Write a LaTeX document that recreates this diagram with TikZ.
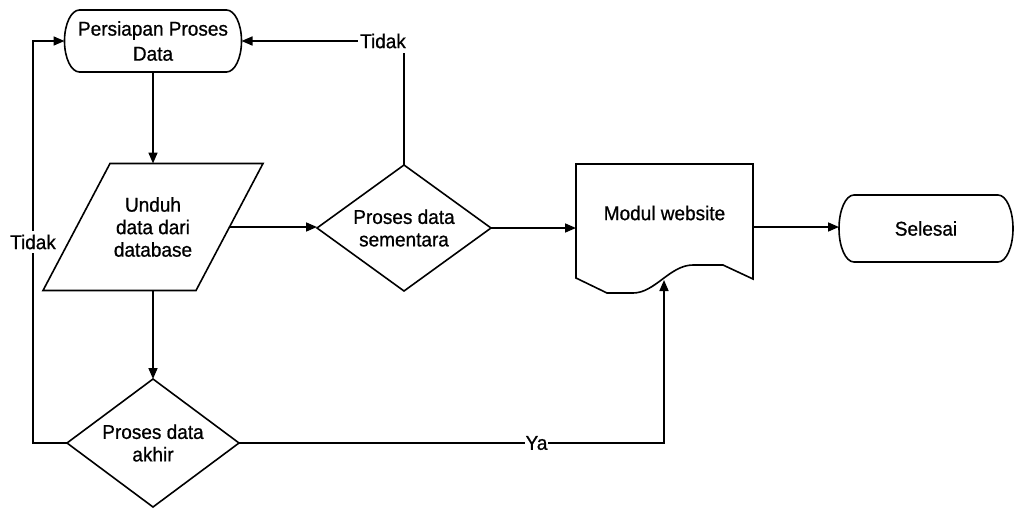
\documentclass[tikz,border=0pt]{standalone}
\usepackage{fontspec}
\setmainfont{Liberation Sans}[FakeStretch=0.95, FakeBold=0.8]
\usetikzlibrary{arrows.meta,calc}
\newcommand{\myfont}{\fontsize{20}{22.5}\selectfont}
\newcommand{\myfontwide}{\fontsize{20}{25}\selectfont}
\tikzset{
  shp/.style={draw=none, inner sep=0pt, outer sep=0pt, align=center, font=\myfont},
  outline/.style={draw, line width=1.6pt, line join=miter},
  conn/.style={draw, line width=1.6pt, -{Triangle[length=11pt,width=9pt]}},
  lbl/.style={fill=white, inner sep=2pt, font=\myfont},
}
\begin{document}
\begin{tikzpicture}[x=1pt,y=1pt]
\useasboundingbox (0,0) rectangle (1017,-509);

% Persiapan Proses Data (terminal)
\node[shp, minimum width=177pt, minimum height=62pt] (persiapan) at (153,-41) {};
\node[shp, font=\myfontwide] (persiapanT) at (153,-41) {Persiapan Proses\\Data};
\draw[outline] ([xshift=15pt]persiapan.north west) -- ([xshift=-15pt]persiapan.north east)
  arc[start angle=90,end angle=-90,x radius=15pt,y radius=31pt]
  -- ([xshift=15pt]persiapan.south west)
  arc[start angle=270,end angle=90,x radius=15pt,y radius=31pt] -- cycle;

% Unduh data dari database (parallelogram)
\node[shp, minimum width=153pt, minimum height=127pt] (unduh) at (153,-227) {Unduh\\data dari\\database};
\draw[outline] ([xshift=33.5pt]unduh.north west) -- ([xshift=33.5pt]unduh.north east)
  -- ([xshift=-33.5pt]unduh.south east) -- ([xshift=-33.5pt]unduh.south west) -- cycle;

% Proses data sementara (diamond)
\node[shp, minimum width=174pt, minimum height=126pt] (sementara) at (404,-228) {Proses data\\sementara};
\draw[outline] (sementara.north) -- (sementara.east) -- (sementara.south) -- (sementara.west) -- cycle;

% Proses data akhir (diamond)
\node[shp, minimum width=172pt, minimum height=128pt] (akhir) at (153,-443) {Proses data\\akhir};
\draw[outline] (akhir.north) -- (akhir.east) -- (akhir.south) -- (akhir.west) -- cycle;

% Modul website (document)
\node[shp, minimum width=177pt, minimum height=126pt] (modul) at (664.5,-227) {};
\node[shp] (modulT) at (664.5,-213) {Modul website};
\draw[outline] (modul.north west) -- (modul.north east) -- ([yshift=11pt]modul.south east)
  -- ($(modul.south east)+(-30,25)$) -- ($(modul.south east)+(-60,25)$)
  .. controls ($(modul.south east)+(-83,25)$) and ($(modul.south west)+(79,-3)$) .. ($(modul.south west)+(57,-3)$)
  -- ($(modul.south west)+(31,-3)$) -- ([yshift=12pt]modul.south west) -- cycle;

% Selesai (terminal)
\node[shp, minimum width=174pt, minimum height=67pt] (selesai) at (926,-228.5) {Selesai};
\draw[outline] ([xshift=15pt]selesai.north west) -- ([xshift=-15pt]selesai.north east)
  arc[start angle=90,end angle=-90,x radius=15pt,y radius=33.5pt]
  -- ([xshift=15pt]selesai.south west)
  arc[start angle=270,end angle=90,x radius=15pt,y radius=33.5pt] -- cycle;

% connectors
\draw[conn] (persiapan.south) -- (unduh.north);
\draw[conn] (unduh.east) -- (unduh.east -| sementara.west);
\draw[conn] (sementara.north) |- node[lbl, pos=0.5, xshift=-21pt, inner ysep=5pt] (tidak1) {Tidak} (persiapan.east);
\draw[conn] (sementara.east) -- (sementara.east -| modul.west);
\draw[conn] (modul.east) -- (modul.east -| selesai.west);
\draw[conn] (unduh.south) -- (akhir.north);
\coordinate (lc) at ($(akhir.west)+(-34,0)$);
\draw[conn] (akhir.west) -- (lc) |- node[lbl, pos=0.25, inner ysep=4pt] (tidak2) {Tidak} (persiapan.west);
\coordinate (modulin) at (664,-280);
\draw[conn] (akhir.east) -| node[lbl, pos=0.35, inner xsep=1pt] (ya) {Ya} (modulin);
\end{tikzpicture}
\end{document}
